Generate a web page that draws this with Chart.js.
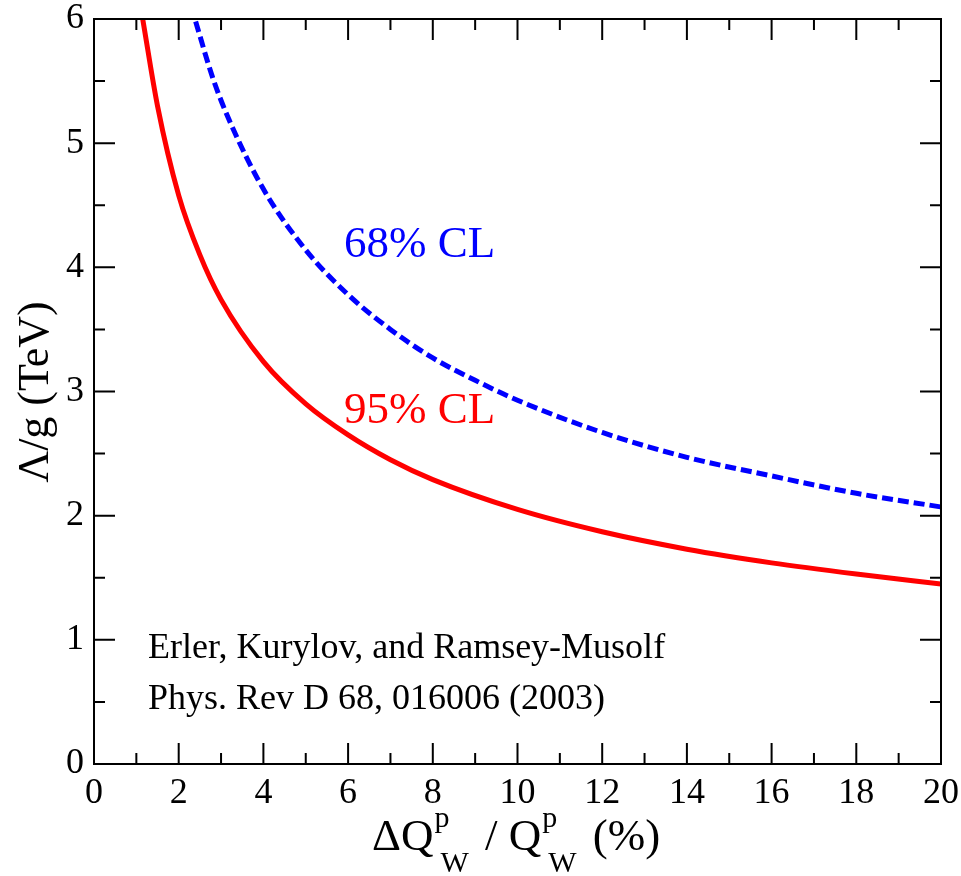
<!DOCTYPE html>
<html>
<head>
<meta charset="utf-8">
<script src="https://cdn.jsdelivr.net/npm/chart.js@4/dist/chart.umd.min.js"></script>
<style>
  html, body { margin: 0; padding: 0; background: #fff; }
  #wrap { width: 961px; height: 876px; }
</style>
</head>
<body>
<div id="wrap"><canvas id="chart" width="961" height="876"></canvas></div>
<script>
// values
const redX  = [1.15, 1.5, 2, 2.5, 3, 4, 5, 6, 7, 8, 10, 12, 14, 16, 18, 20];
const redY  = [6.0, 5.3, 4.58, 4.1, 3.74, 3.24, 2.9, 2.65, 2.45, 2.29, 2.05, 1.87, 1.73, 1.62, 1.53, 1.45];
const blueX = [2.4, 2.8, 3.2, 4, 5, 6, 7, 8, 9, 10, 12, 14, 16, 18, 20];
const blueY = [5.98, 5.53, 5.18, 4.63, 4.14, 3.78, 3.5, 3.27, 3.09, 2.93, 2.67, 2.47, 2.32, 2.18, 2.07];

const xMajor = [0, 2, 4, 6, 8, 10, 12, 14, 16, 18, 20];
const xMinor = [1, 3, 5, 7, 9, 11, 13, 15, 17, 19];
const yMajor = [0, 1, 2, 3, 4, 5, 6];
const yMinor = [0.5, 1.5, 2.5, 3.5, 4.5, 5.5];

const SERIF = '"Liberation Serif", "DejaVu Serif", serif';

const pts = (xs, ys) => xs.map((x, i) => ({ x, y: ys[i] }));

// keep the plot box where the figure has it
const fixBox = (s, prop, size) => {
  s[prop] = size;
  s.paddingTop = s.paddingBottom = s.paddingLeft = s.paddingRight = 0;
};

// frame + inward ticks on all four sides
const framePlugin = {
  id: 'frame',
  afterDraw(chart) {
    const { ctx, chartArea: a, scales: { x, y } } = chart;
    ctx.save();
    ctx.strokeStyle = '#000';
    ctx.lineWidth = 2;
    ctx.strokeRect(a.left, a.top, a.right - a.left, a.bottom - a.top);
    ctx.beginPath();
    const tx = (v, len) => {
      const px = x.getPixelForValue(v);
      ctx.moveTo(px, a.bottom); ctx.lineTo(px, a.bottom - len);
      ctx.moveTo(px, a.top); ctx.lineTo(px, a.top + len);
    };
    const ty = (v, len) => {
      const py = y.getPixelForValue(v);
      ctx.moveTo(a.left, py); ctx.lineTo(a.left + len, py);
      ctx.moveTo(a.right, py); ctx.lineTo(a.right - len, py);
    };
    xMajor.forEach(v => tx(v, 21));
    xMinor.forEach(v => tx(v, 11));
    yMajor.forEach(v => ty(v, 21));
    yMinor.forEach(v => ty(v, 11));
    ctx.stroke();
    ctx.restore();
  }
};

// titles and annotations
const textPlugin = {
  id: 'texts',
  afterDraw(chart) {
    const { ctx } = chart;
    ctx.save();
    ctx.textBaseline = 'alphabetic';
    ctx.textAlign = 'left';

    ctx.font = '45px ' + SERIF;
    ctx.fillStyle = '#0000ff';
    ctx.fillText('68% CL', 344, 257);
    ctx.fillStyle = '#ff0000';
    ctx.fillText('95% CL', 344, 423);

    ctx.fillStyle = '#000';
    ctx.font = '36px ' + SERIF;
    ctx.fillText('Erler, Kurylov, and Ramsey-Musolf', 148, 658);
    ctx.fillText('Phys. Rev D 68, 016006 (2003)', 148, 709);

    // y title
    ctx.save();
    ctx.translate(48, 392);
    ctx.rotate(-Math.PI / 2);
    ctx.font = '44px ' + SERIF;
    ctx.textAlign = 'center';
    ctx.fillText('\u039B/g (TeV)', 0, 0);
    ctx.restore();

    // x title: ΔQ^p_W / Q^p_W (%)
    const big = '45px ' + SERIF, small = '30px ' + SERIF;
    const base = 850;
    let cx = 372;
    const put = (t, font) => {
      ctx.font = font;
      ctx.fillText(t, cx, base);
      cx += ctx.measureText(t).width;
    };
    const supsub = () => {
      ctx.font = small;
      ctx.fillText('p', cx + 1, base - 23);
      ctx.fillText('W', cx + 7, base + 22);
      cx += 12 + ctx.measureText('W').width;
    };
    put('\u0394Q', big);
    supsub();
    put(' / Q', big);
    supsub();
    put(' (%)', big);
    ctx.restore();
  }
};

new Chart(document.getElementById('chart'), {
  type: 'line',
  data: {
    datasets: [
      {
        label: '95% CL',
        data: pts(redX, redY),
        borderColor: '#ff0000',
        borderWidth: 5,
        pointRadius: 0,
        cubicInterpolationMode: 'monotone',
        fill: false
      },
      {
        label: '68% CL',
        data: pts(blueX, blueY),
        borderColor: '#0000ff',
        borderWidth: 5,
        borderDash: [11, 5],
        pointRadius: 0,
        cubicInterpolationMode: 'monotone',
        fill: false
      }
    ]
  },
  options: {
    responsive: false,
    animation: false,
    layout: { padding: { top: 19, right: 20, left: 0, bottom: 0 } },
    plugins: { legend: { display: false }, tooltip: { enabled: false } },
    scales: {
      x: {
        type: 'linear',
        min: 0, max: 20,
        grid: { display: false, drawTicks: false },
        border: { display: false },
        ticks: { stepSize: 2, color: '#000', padding: 12, maxRotation: 0,
                 font: { family: SERIF, size: 36, lineHeight: 1 } },
        afterFit: s => fixBox(s, 'height', 112)
      },
      y: {
        min: 0, max: 6,
        grid: { display: false, drawTicks: false },
        border: { display: false },
        ticks: { stepSize: 1, color: '#000', padding: 10,
                 font: { family: SERIF, size: 36, lineHeight: 1 } },
        afterFit: s => fixBox(s, 'width', 94)
      }
    }
  },
  plugins: [framePlugin, textPlugin]
});
</script>
</body>
</html>
